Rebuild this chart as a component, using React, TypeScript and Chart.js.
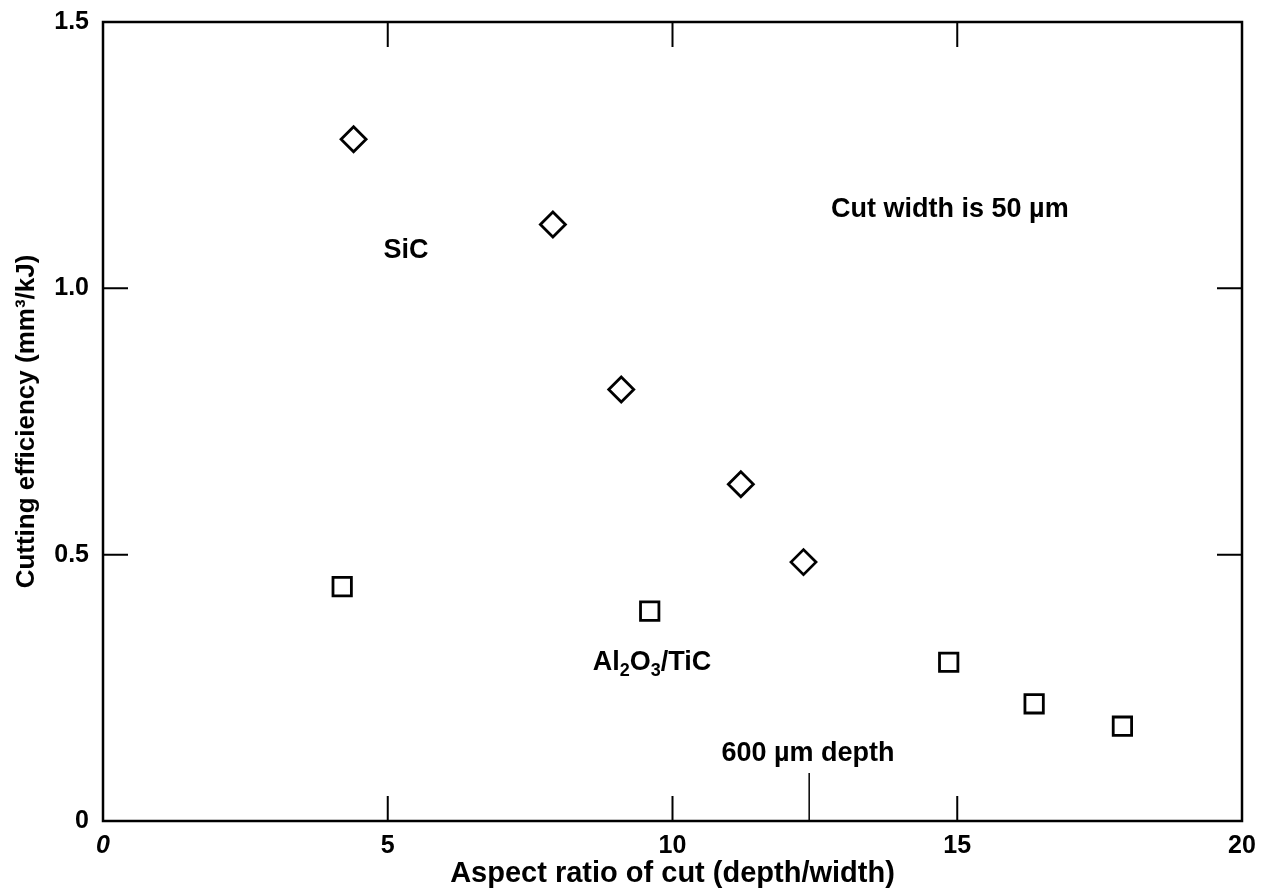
import React, { useEffect, useRef } from "react";
import { Chart, registerables } from "chart.js";

Chart.register(...registerables);

// ---- data ----
const sicX = [4.4, 7.9, 9.1, 11.2, 12.3];
const sicY = [1.28, 1.12, 0.81, 0.632, 0.486];
const aloX = [4.2, 9.6, 14.85, 16.35, 17.9];
const aloY = [0.44, 0.394, 0.298, 0.22, 0.178];
const xTicks = [0, 5, 10, 15, 20];
const yTicks = [0, 0.5, 1.0, 1.5];
const xTitle = "Aspect ratio of cut (depth/width)";
const yTitle = "Cutting efficiency (mm³/kJ)";
const pointerX = [12.4, 12.4];
const pointerY = [0, 0.09];

type Part = { t: string; sub?: boolean; sup?: boolean };
const annotations: { x: number; y: number; parts: Part[] }[] = [
  { x: 5.32, y: 1.071, parts: [{ t: "SiC" }] },
  { x: 14.87, y: 1.147, parts: [{ t: "Cut width is 50 µm" }] },
  {
    x: 9.64,
    y: 0.297,
    parts: [{ t: "Al" }, { t: "2", sub: true }, { t: "O" }, { t: "3", sub: true }, { t: "/TiC" }],
  },
  { x: 12.38, y: 0.126, parts: [{ t: "600 µm depth" }] },
];

const FONT = '"Liberation Sans", Arial, Helvetica, sans-serif';
const FS = 27;

const framePlugin = {
  id: "frameAndNotes",
  afterDraw(chart: any) {
    const { ctx, chartArea, scales } = chart;
    const { left, right, top, bottom } = chartArea;
    const xs = scales.x;
    const ys = scales.y;
    ctx.save();
    ctx.strokeStyle = "#000";
    ctx.lineWidth = 2.5;
    ctx.strokeRect(left, top, right - left, bottom - top);
    ctx.lineWidth = 2;
    const TL = 25;
    xTicks
      .filter((v) => v > xs.min && v < xs.max)
      .forEach((v) => {
        const px = xs.getPixelForValue(v);
        ctx.beginPath();
        ctx.moveTo(px, bottom);
        ctx.lineTo(px, bottom - TL);
        ctx.moveTo(px, top);
        ctx.lineTo(px, top + TL);
        ctx.stroke();
      });
    yTicks
      .filter((v) => v > ys.min && v < ys.max)
      .forEach((v) => {
        const py = ys.getPixelForValue(v);
        ctx.beginPath();
        ctx.moveTo(left, py);
        ctx.lineTo(left + TL, py);
        ctx.moveTo(right, py);
        ctx.lineTo(right - TL, py);
        ctx.stroke();
      });

    // annotations
    ctx.fillStyle = "#000";
    ctx.textBaseline = "middle";
    ctx.textAlign = "left";
    const mainFont = `bold ${FS}px ${FONT}`;
    const smallFont = `bold ${Math.round(FS * 0.68)}px ${FONT}`;
    annotations.forEach((a) => {
      let total = 0;
      const widths = a.parts.map((p) => {
        ctx.font = p.sub || p.sup ? smallFont : mainFont;
        const w = ctx.measureText(p.t).width;
        total += w;
        return w;
      });
      let cx = xs.getPixelForValue(a.x) - total / 2;
      const cy = ys.getPixelForValue(a.y);
      a.parts.forEach((p, i) => {
        ctx.font = p.sub || p.sup ? smallFont : mainFont;
        const dy = p.sub ? FS * 0.3 : p.sup ? -FS * 0.35 : 0;
        ctx.fillText(p.t, cx, cy + dy);
        cx += widths[i];
      });
    });
    ctx.restore();
  },
};

export default function App() {
  const ref = useRef<HTMLCanvasElement | null>(null);
  useEffect(() => {
    if (!ref.current) return;
    const chart = new Chart(ref.current, {
      type: "scatter",
      data: {
        datasets: [
          {
            label: "SiC",
            data: sicX.map((x, i) => ({ x, y: sicY[i] })),
            pointStyle: "rectRot",
            pointRadius: 12.5,
            borderColor: "#000",
            backgroundColor: "rgba(0,0,0,0)",
            borderWidth: 2.8,
          },
          {
            label: "Al2O3/TiC",
            data: aloX.map((x, i) => ({ x, y: aloY[i] })),
            pointStyle: "rect",
            pointRadius: 13,
            borderColor: "#000",
            backgroundColor: "rgba(0,0,0,0)",
            borderWidth: 2.8,
          },
          {
            label: "pointer",
            data: pointerX.map((x, i) => ({ x, y: pointerY[i] })),
            showLine: true,
            pointRadius: 0,
            borderColor: "#000",
            borderWidth: 1.5,
          },
        ],
      },
      options: {
        animation: false,
        responsive: false,
        maintainAspectRatio: false,
        layout: { padding: { top: 22, right: 29, left: 0, bottom: 0 } },
        plugins: { legend: { display: false }, tooltip: { enabled: false } },
        scales: {
          x: {
            type: "linear",
            min: 0,
            max: 20,
            afterBuildTicks: (s: any) => {
              s.ticks = xTicks.map((v) => ({ value: v }));
            },
            afterFit: (s: any) => {
              s.height = 67;
              s.paddingLeft = 0;
              s.paddingRight = 0;
            },
            grid: { display: false, drawTicks: false },
            border: { display: false },
            ticks: {
              color: "#000",
              font: (c: any) => ({
                family: FONT,
                size: 25,
                weight: "bold",
                style: c.tick && c.tick.value === 0 ? "italic" : "normal",
              }),
              padding: 10,
              maxRotation: 0,
              autoSkip: false,
              callback: (v: any) => String(v),
            },
            title: {
              display: true,
              text: xTitle,
              color: "#000",
              font: { family: FONT, size: 29, weight: "bold" },
              padding: { top: 0, bottom: -3 },
            },
          },
          y: {
            type: "linear",
            min: 0,
            max: 1.5,
            afterBuildTicks: (s: any) => {
              s.ticks = yTicks.map((v) => ({ value: v }));
            },
            afterFit: (s: any) => {
              s.width = 103;
              s.paddingTop = 0;
              s.paddingBottom = 0;
            },
            grid: { display: false, drawTicks: false },
            border: { display: false },
            ticks: {
              color: "#000",
              font: { family: FONT, size: 25, weight: "bold" },
              padding: 14,
              autoSkip: false,
              callback: (v: any) => (Number(v) === 0 ? "0" : Number(v).toFixed(1)),
            },
            title: {
              display: true,
              text: yTitle,
              color: "#000",
              font: { family: FONT, size: 26, weight: "bold" },
              padding: { top: 11, bottom: 0 },
            },
          },
        },
      },
      plugins: [framePlugin],
    } as any);
    return () => chart.destroy();
  }, []);

  return (
    <div
      style={{
        position: "fixed",
        left: 0,
        top: 0,
        width: 1271,
        height: 888,
        background: "#fff",
      }}
    >
      <canvas ref={ref} width={1271} height={888} style={{ width: 1271, height: 888, display: "block" }} />
    </div>
  );
}
